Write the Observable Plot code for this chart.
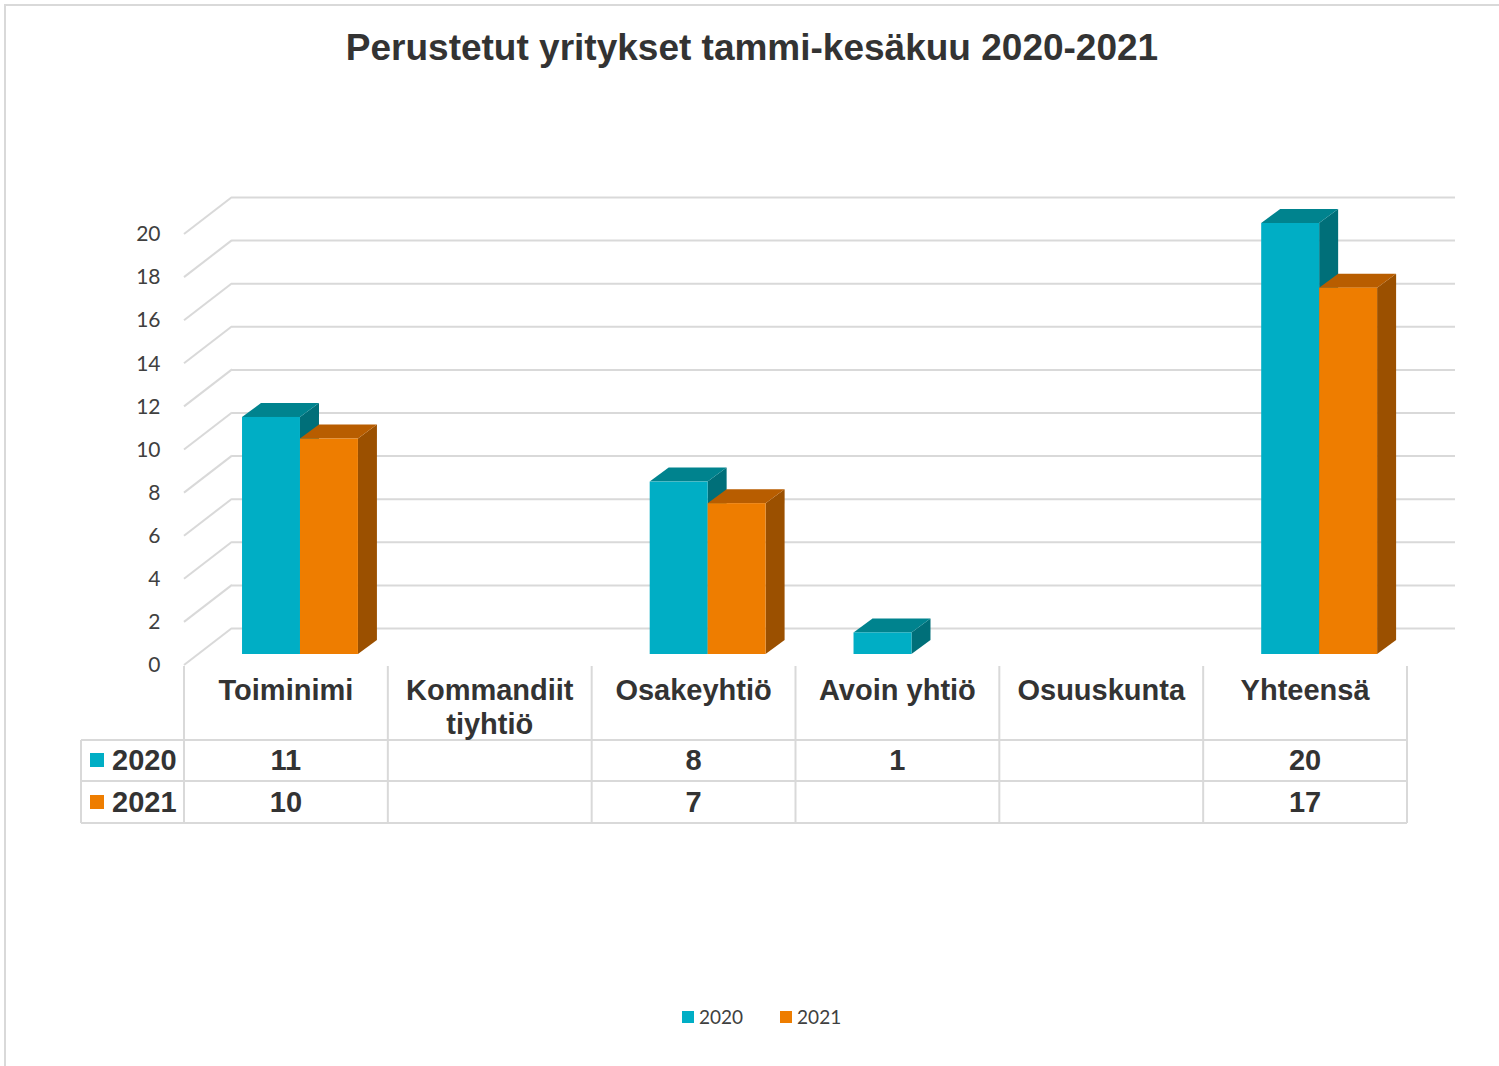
<!DOCTYPE html>
<html><head><meta charset="utf-8">
<script src="https://cdn.jsdelivr.net/npm/d3@7"></script>
<script src="https://cdn.jsdelivr.net/npm/@observablehq/plot@0.6"></script>
<style>
html,body{margin:0;padding:0;background:#fff;}
#wrap{position:relative;width:1499px;height:1066px;overflow:hidden;background:#fff;}
#chart{position:absolute;left:0;top:0;}
#frame{position:absolute;left:4px;top:4px;width:1600px;height:1200px;border-left:2px solid #d9d9d9;border-top:2px solid #d9d9d9;pointer-events:none;}
#title{position:absolute;left:0;top:27px;width:1504px;text-align:center;font:bold 37px "Liberation Sans",Arial,sans-serif;color:#333;line-height:42px;}
#legend{position:absolute;left:682px;top:1005px;display:flex;align-items:center;font:19px Lato,sans-serif;color:#404040;line-height:24px;}
#legend .item{display:flex;align-items:center;}
#legend .sw{width:12px;height:12px;margin-right:5px;}
</style></head>
<body><div id="wrap"><div id="chart"></div><div id="frame"></div><div id="title"></div><div id="legend"></div></div>
<script>
const title = "Perustetut yritykset tammi-kesäkuu 2020-2021";
const categories = ["Toiminimi", "Kommandiittiyhtiö", "Osakeyhtiö", "Avoin yhtiö", "Osuuskunta", "Yhteensä"];
const categoryLabels = [["Toiminimi"], ["Kommandiit", "tiyhtiö"], ["Osakeyhtiö"], ["Avoin yhtiö"], ["Osuuskunta"], ["Yhteensä"]];
const series = ["2020", "2021"];
const values2020 = [11, null, 8, 1, null, 20];
const values2021 = [10, null, 7, null, null, 17];
const yTicks = [0, 2, 4, 6, 8, 10, 12, 14, 16, 18, 20];
const colors = {
  "2020": {front: "#00aec5", top: "#00838e", side: "#006f79"},
  "2021": {front: "#ee7d00", top: "#b85d00", side: "#9b5000"}
};

const data = categories.flatMap((c, i) => [
  {category: c, year: "2020", value: values2020[i]},
  {category: c, year: "2021", value: values2021[i]}
]);

const GRID = "#d9d9d9";
// depth offsets relative to the bars' front plane
const FLOOR = {dx: -14, dy: 11};
const WALL = {dx: 34, dy: -26};
const DEPTH = {dx: 19, dy: -14};

function diagonals(index, scales) {
  const {x, y} = scales;
  const x0 = x.range()[0];
  const g = d3.create("svg:g");
  for (const t of yTicks) {
    g.append("line")
      .attr("x1", x0 + FLOOR.dx).attr("y1", y(t) + FLOOR.dy)
      .attr("x2", x0 + WALL.dx).attr("y2", y(t) + WALL.dy)
      .attr("stroke", GRID).attr("stroke-width", 2);
  }
  return g.node();
}

function bars3d(index, scales) {
  const {x, y} = scales;
  const bw = x.bandwidth();
  const g = d3.create("svg:g");
  const yb = y(0);
  for (const d of data) {
    if (d.value == null) continue;
    const si = series.indexOf(d.year);
    const x0 = x(d.category) + bw * (0.216 + si * 0.2843);
    const x1 = x0 + bw * 0.2843;
    const yt = y(d.value);
    const c = colors[d.year];
    g.append("path")
      .attr("d", `M${x1},${yb}L${x1 + DEPTH.dx},${yb + DEPTH.dy}L${x1 + DEPTH.dx},${yt + DEPTH.dy}L${x1},${yt}Z`)
      .attr("fill", c.side);
    g.append("path")
      .attr("d", `M${x0},${yt}L${x1},${yt}L${x1 + DEPTH.dx},${yt + DEPTH.dy}L${x0 + DEPTH.dx},${yt + DEPTH.dy}Z`)
      .attr("fill", c.top);
    g.append("rect")
      .attr("x", x0).attr("y", yt).attr("width", x1 - x0).attr("height", yb - yt)
      .attr("fill", c.front);
  }
  return g.node();
}

function dataTable(index, scales) {
  const {x, y} = scales;
  const bw = x.bandwidth();
  const g = d3.create("svg:g");
  const y0 = y(0);
  const top = y0 + 12, hb = y0 + 86, r1 = y0 + 127, r2 = y0 + 169;
  const colX = categories.map(c => x(c) + FLOOR.dx);
  const left = colX[0];
  const right = colX[colX.length - 1] + bw;
  const labelLeft = left - 103;
  const line = (x1, y1, x2, y2) => g.append("line")
    .attr("x1", x1).attr("y1", y1).attr("x2", x2).attr("y2", y2)
    .attr("stroke", GRID).attr("stroke-width", 2);
  for (const yy of [hb, r1, r2]) line(labelLeft, yy, right, yy);
  for (const cx of colX) line(cx, top, cx, r2);
  line(right, top, right, r2);
  line(labelLeft, hb, labelLeft, r2);
  const font = "bold 29px 'Liberation Sans', Arial, sans-serif";
  const txt = (s, tx, ty, anchor = "middle") => g.append("text")
    .attr("x", tx).attr("y", ty).attr("dy", "0.36em")
    .attr("text-anchor", anchor).attr("fill", "#333")
    .style("font", font).text(s);
  categories.forEach((c, i) => {
    const cx = colX[i] + bw / 2;
    categoryLabels[i].forEach((ln, j) => txt(ln, cx, y0 + 36 + j * 34));
    if (values2020[i] != null) txt(String(values2020[i]), cx, y0 + 106);
    if (values2021[i] != null) txt(String(values2021[i]), cx, y0 + 148);
  });
  series.forEach((s, k) => {
    const cy = y0 + 106 + k * 42;
    g.append("rect").attr("x", labelLeft + 9).attr("y", cy - 7).attr("width", 14).attr("height", 14)
      .attr("fill", colors[s].front);
    txt(s, labelLeft + 31, cy, "start");
  });
  return g.node();
}

const chart = Plot.plot({
  width: 1499,
  height: 1066,
  marginTop: 223,
  marginBottom: 412,
  marginLeft: 198,
  marginRight: 78,
  style: {background: "transparent"},
  x: {type: "band", domain: categories, padding: 0, round: false, axis: null},
  y: {domain: [0, 20], axis: null},
  marks: [
    Plot.ruleY(yTicks, {y: d => d, dx: WALL.dx, dy: WALL.dy, stroke: GRID, strokeWidth: 2}),
    diagonals,
    Plot.text(yTicks, {
      y: d => d, text: d => String(d), frameAnchor: "left", textAnchor: "end",
      dx: -38, dy: FLOOR.dy, fontSize: 21, fontFamily: "Lato, sans-serif", fill: "#404040"
    }),
    bars3d,
    dataTable
  ]
});
document.getElementById("chart").appendChild(chart);
document.getElementById("title").textContent = title;

const legend = document.getElementById("legend");
series.forEach((s, k) => {
  const item = document.createElement("div");
  item.className = "item";
  if (k > 0) item.style.marginLeft = "37px";
  const sw = document.createElement("div");
  sw.className = "sw";
  sw.style.background = colors[s].front;
  const t = document.createElement("span");
  t.textContent = s;
  item.appendChild(sw); item.appendChild(t);
  legend.appendChild(item);
});
</script></body></html>
